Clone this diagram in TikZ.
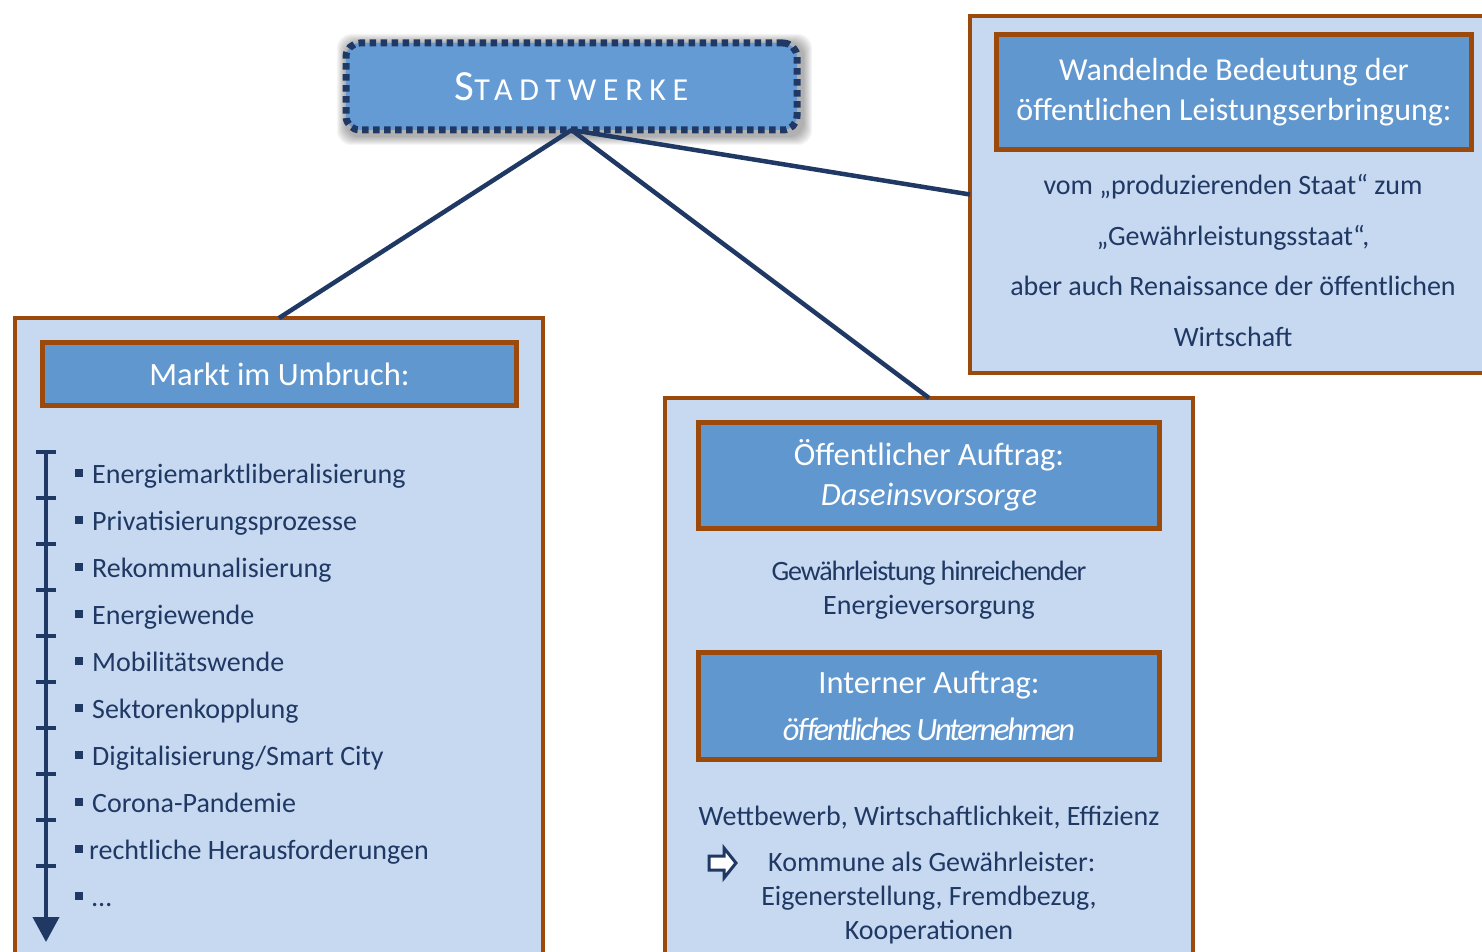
\documentclass[tikz,border=0pt]{standalone}
\usepackage{fontspec}
\setmainfont{Carlito}
\newfontfamily\spacedfont{Carlito}[LetterSpace=21]
\usetikzlibrary{arrows.meta}
\definecolor{outerfill}{HTML}{C6D9F0}
\definecolor{hdrfill}{HTML}{6197CF}
\definecolor{swfill}{HTML}{649BD5}
\definecolor{bordbrown}{HTML}{9C4A0C}
\definecolor{navy}{HTML}{1F3864}
\definecolor{txtnavy}{HTML}{203864}
\newcommand\sqb[1]{\rule[6pt]{8pt}{8pt}\hspace{#1}}
\begin{document}
\begin{tikzpicture}[x=1pt,y=-1pt,
  outerbox/.style={draw=bordbrown, line width=4.5pt, fill=outerfill, inner sep=0pt, outer sep=0pt},
  hdrbox/.style={draw=bordbrown, line width=5pt, fill=hdrfill, text=white, align=center, inner sep=0pt, outer sep=0pt},
  swbox/.style={draw=navy, line width=7pt, dash pattern=on 6.5pt off 4.5pt, fill=swfill, rounded corners=14pt, inner sep=0pt, outer sep=0pt, text=white},
  body/.style={text=txtnavy, font=\fontsize{28}{34}\selectfont, inner sep=0pt},
  item/.style={body, anchor=base west},
  conn/.style={draw=navy, line width=4.5pt},
  tline/.style={draw=navy, line width=4pt}
]
\useasboundingbox (0,0) rectangle (1482,952);
\clip (0,0) rectangle (1482,952);

% shadow of the Stadtwerke box
\foreach \i in {1,...,9}
  \fill[black, opacity=0.04, rounded corners=14pt] (343-\i+3,40-\i+3) rectangle (800+\i+3,133+\i+3);

% outer boxes
\node[outerbox, minimum width=528pt, minimum height=672pt] (lo) at (279,654) {};
\node[outerbox, minimum width=528pt, minimum height=592pt] (mo) at (929,694) {};
\node[outerbox, minimum width=528pt, minimum height=357pt] (ro) at (1234,194.5) {};

% top box
\node[swbox, minimum width=451pt, minimum height=87pt] (sw) at (571.5,86.5)
  {{\spacedfont\fontsize{43}{43}\selectfont S}{\spacedfont\fontsize{32}{32}\selectfont TADTWERKE}};

% connectors
\draw[conn] (sw.south) -- (lo.north);
\draw[conn] (sw.south) -- (mo.north);
\draw[conn] (sw.south) -- (ro.west);

% headers
\node[hdrbox, minimum width=474pt, minimum height=63pt, font=\fontsize{32.5}{40}\selectfont] (lh) at (279.5,374) {Markt im Umbruch:};
\node[hdrbox, minimum width=461pt, minimum height=106pt, font=\fontsize{32.5}{40}\selectfont] (mh1) at (929,475.5)
  {Öffentlicher Auftrag:\\\itshape Daseinsvorsorge};
\node[hdrbox, minimum width=461pt, minimum height=107pt, font=\fontsize{32.5}{47}\selectfont] (mh2) at (929,706)
  {Interner Auftrag:\\{\itshape\addfontfeature{LetterSpace=-7}öffentliches Unternehmen}};
\node[hdrbox, minimum width=475pt, minimum height=115pt, font=\fontsize{32}{40}\selectfont] (rh) at (1234,92)
  {Wandelnde Bedeutung der\\öffentlichen Leistungserbringung:};

% timeline
\coordinate (tltop) at (46,452);
\coordinate (tlend) at (46,942);
\draw[tline, -{Triangle[width=26pt,length=25pt]}] (tltop) -- (tlend);
\foreach \y in {452,498,...,866}
  \draw[tline] (36,\y) -- (56,\y);

% list items
\node[item] (i1) at (75,483) {\sqb{9pt}Energiemarktliberalisierung};
\node[item] (i2) at (75,530) {\sqb{9pt}Privatisierungsprozesse};
\node[item] (i3) at (75,577) {\sqb{9pt}Rekommunalisierung};
\node[item] (i4) at (75,624) {\sqb{9pt}Energiewende};
\node[item] (i5) at (75,671) {\sqb{9pt}Mobilitätswende};
\node[item] (i6) at (75,718) {\sqb{9pt}Sektorenkopplung};
\node[item] (i7) at (75,765) {\sqb{9pt}Digitalisierung/Smart City};
\node[item] (i8) at (75,812) {\sqb{9pt}Corona-Pandemie};
\node[item] (i9) at (75,859) {\sqb{6pt}rechtliche Herausforderungen};
\node[item] (i10) at (75,906) {\sqb{9pt}…};

% middle body
\node[body, anchor=base] (m1) at (929,580) {\addfontfeature{LetterSpace=-4}Gewährleistung hinreichender};
\node[body, anchor=base] (m2) at (929,614) {Energieversorgung};
\node[body, anchor=base] (w1) at (929,825) {Wettbewerb, Wirtschaftlichkeit, Effizienz};
\draw[navy, line width=3pt, fill=white, line join=miter]
  (709,856) -- (724,856) -- (724,848) -- (736,863) -- (724,878) -- (724,870) -- (709,870) -- cycle;
\node[body, anchor=base west] (k1) at (768,871) {Kommune als Gewährleister:};
\node[body, anchor=base] (k2) at (929,905) {Eigenerstellung, Fremdbezug,};
\node[body, anchor=base] (k3) at (929,939) {Kooperationen};

% right body
\node[body, anchor=base] (r1) at (1233,194) {vom „produzierenden Staat“ zum};
\node[body, anchor=base] (r2) at (1233,245) {„Gewährleistungsstaat“,};
\node[body, anchor=base] (r3) at (1233,295) {aber auch Renaissance der öffentlichen};
\node[body, anchor=base] (r4) at (1233,346) {Wirtschaft};
\end{tikzpicture}
\end{document}
